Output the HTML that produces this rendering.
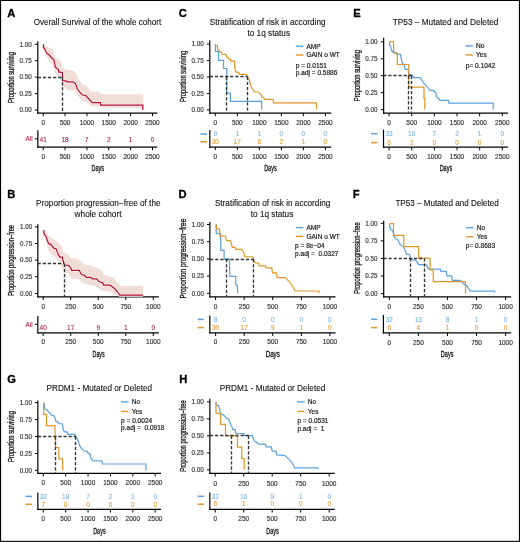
<!DOCTYPE html>
<html><head><meta charset="utf-8"><style>
html,body{margin:0;padding:0;background:#fff;}
svg{display:block;will-change:transform;}
text{font-family:"Liberation Sans",sans-serif;}
</style></head><body>
<svg width="520" height="542" viewBox="0 0 520 542">
<rect x="0" y="0" width="520" height="542" fill="#fff"/>
<text x="7.15" y="17.0" font-size="11.2" font-weight="bold" fill="#000" stroke="#000" stroke-width="0.3">A</text>
<text x="33.70" y="25.41" font-size="8.25" fill="#111" stroke="#111" stroke-width="0.1" font-weight="normal" textLength="127.50" lengthAdjust="spacingAndGlyphs">Overall Survival of the whole cohort</text>
<path d="M43.5,44.0L44.6,44.4L46.5,46.2L49.2,47.7L53.1,50.0L54.2,53.1L54.6,57.7L57.7,58.8L60.4,60.8L61.5,63.1L62.3,67.7L64.6,69.2L73.8,70.4L76.2,73.8L78.1,78.9L80.4,81.8L82.7,84.7L86.2,85.8L88.5,88.1L90.2,91.0L100.0,92.3L100.8,94.2L143.2,94.2L143.2,108.0L100.8,108.0L100.0,106.4L90.5,106.2L89.1,104.3L87.9,102.5L84.5,102.0L81.6,100.2L78.7,96.8L77.0,93.3L74.7,90.4L67.2,89.8L66.0,89.3L63.1,85.4L62.3,82.0L60.0,79.0L57.7,76.2L56.2,73.8L54.6,72.3L53.8,66.9L51.5,63.8L49.2,60.8L47.7,58.5L45.4,55.4L44.6,50.8L43.5,47.3Z" fill="#EFDDD6" stroke="none"/>
<line x1="37.80" y1="41.20" x2="37.80" y2="113.65" stroke="#000" stroke-width="1.2"/>
<line x1="37.20" y1="113.05" x2="157.30" y2="113.05" stroke="#000" stroke-width="1.2"/>
<line x1="34.90" y1="44.30" x2="37.80" y2="44.30" stroke="#000" stroke-width="1.0"/>
<text x="31.80" y="46.56" font-size="6.3" text-anchor="end" fill="#333333" stroke="#333333" stroke-width="0.15" font-weight="normal" >1.00</text>
<line x1="34.90" y1="60.72" x2="37.80" y2="60.72" stroke="#000" stroke-width="1.0"/>
<text x="31.80" y="62.98" font-size="6.3" text-anchor="end" fill="#333333" stroke="#333333" stroke-width="0.15" font-weight="normal" >0.75</text>
<line x1="34.90" y1="77.15" x2="37.80" y2="77.15" stroke="#000" stroke-width="1.0"/>
<text x="31.80" y="79.41" font-size="6.3" text-anchor="end" fill="#333333" stroke="#333333" stroke-width="0.15" font-weight="normal" >0.50</text>
<line x1="34.90" y1="93.58" x2="37.80" y2="93.58" stroke="#000" stroke-width="1.0"/>
<text x="31.80" y="95.83" font-size="6.3" text-anchor="end" fill="#333333" stroke="#333333" stroke-width="0.15" font-weight="normal" >0.25</text>
<line x1="34.90" y1="110.00" x2="37.80" y2="110.00" stroke="#000" stroke-width="1.0"/>
<text x="31.80" y="112.26" font-size="6.3" text-anchor="end" fill="#333333" stroke="#333333" stroke-width="0.15" font-weight="normal" >0.00</text>
<line x1="43.20" y1="113.05" x2="43.20" y2="116.15" stroke="#000" stroke-width="1.0"/>
<text transform="translate(43.20,124.56) scale(1.03,1)" font-size="6.3" text-anchor="middle" fill="#333333" stroke="#333333" stroke-width="0.15" font-weight="normal" >0</text>
<line x1="65.06" y1="113.05" x2="65.06" y2="116.15" stroke="#000" stroke-width="1.0"/>
<text transform="translate(65.06,124.56) scale(1.03,1)" font-size="6.3" text-anchor="middle" fill="#333333" stroke="#333333" stroke-width="0.15" font-weight="normal" >500</text>
<line x1="86.92" y1="113.05" x2="86.92" y2="116.15" stroke="#000" stroke-width="1.0"/>
<text transform="translate(86.92,124.56) scale(1.03,1)" font-size="6.3" text-anchor="middle" fill="#333333" stroke="#333333" stroke-width="0.15" font-weight="normal" >1000</text>
<line x1="108.78" y1="113.05" x2="108.78" y2="116.15" stroke="#000" stroke-width="1.0"/>
<text transform="translate(108.78,124.56) scale(1.03,1)" font-size="6.3" text-anchor="middle" fill="#333333" stroke="#333333" stroke-width="0.15" font-weight="normal" >1500</text>
<line x1="130.64" y1="113.05" x2="130.64" y2="116.15" stroke="#000" stroke-width="1.0"/>
<text transform="translate(130.64,124.56) scale(1.03,1)" font-size="6.3" text-anchor="middle" fill="#333333" stroke="#333333" stroke-width="0.15" font-weight="normal" >2000</text>
<line x1="152.50" y1="113.05" x2="152.50" y2="116.15" stroke="#000" stroke-width="1.0"/>
<text transform="translate(152.50,124.56) scale(1.03,1)" font-size="6.3" text-anchor="middle" fill="#333333" stroke="#333333" stroke-width="0.15" font-weight="normal" >2500</text>
<g transform="translate(13.90,77.50) rotate(-90)"><text x="0" y="0" font-size="8.6" text-anchor="middle" fill="#111" stroke="#111" stroke-width="0.3" textLength="51.00" lengthAdjust="spacingAndGlyphs">Proportion surviving</text></g>
<path d="M43.5,44.2L43.5,47.3L44.6,48.5L45.4,50.8L47.3,53.8L48.8,54.6L51.5,57.7L53.8,59.6L54.6,63.1L55.4,67.3L57.3,68.8L58.5,69.6L58.8,71.9L61.2,72.3L62.4,72.3L62.5,80.5L63.8,80.9L66.0,80.9L67.2,81.8L72.9,81.8L74.7,82.9L76.4,85.8L77.5,89.3L79.8,92.2L82.2,95.0L85.6,95.3L86.8,96.8L89.1,99.1L91.4,101.7L92.5,102.6L100.4,102.6L100.8,105.2L142.8,105.2L142.8,109.8" fill="none" stroke="#F7F0E8" stroke-width="2.9" stroke-linejoin="miter"/>
<path d="M43.5,44.2L43.5,47.3L44.6,48.5L45.4,50.8L47.3,53.8L48.8,54.6L51.5,57.7L53.8,59.6L54.6,63.1L55.4,67.3L57.3,68.8L58.5,69.6L58.8,71.9L61.2,72.3L62.4,72.3L62.5,80.5L63.8,80.9L66.0,80.9L67.2,81.8L72.9,81.8L74.7,82.9L76.4,85.8L77.5,89.3L79.8,92.2L82.2,95.0L85.6,95.3L86.8,96.8L89.1,99.1L91.4,101.7L92.5,102.6L100.4,102.6L100.8,105.2L142.8,105.2L142.8,109.8" fill="none" stroke="#B50C36" stroke-width="1.22" stroke-linejoin="miter"/>
<line x1="37.80" y1="77.50" x2="62.50" y2="77.50" stroke="#333" stroke-width="1.35" stroke-dasharray="3.2,1.9"/>
<line x1="62.50" y1="77.10" x2="62.50" y2="112.80" stroke="#333" stroke-width="1.35" stroke-dasharray="3.2,1.9"/>
<line x1="37.85" y1="130.20" x2="37.85" y2="147.65" stroke="#000" stroke-width="1.2"/>
<line x1="37.25" y1="147.05" x2="157.30" y2="147.05" stroke="#000" stroke-width="1.2"/>
<line x1="43.20" y1="147.05" x2="43.20" y2="150.15" stroke="#000" stroke-width="1.0"/>
<text transform="translate(43.20,158.56) scale(1.03,1)" font-size="6.3" text-anchor="middle" fill="#333333" stroke="#333333" stroke-width="0.15" font-weight="normal" >0</text>
<line x1="65.06" y1="147.05" x2="65.06" y2="150.15" stroke="#000" stroke-width="1.0"/>
<text transform="translate(65.06,158.56) scale(1.03,1)" font-size="6.3" text-anchor="middle" fill="#333333" stroke="#333333" stroke-width="0.15" font-weight="normal" >500</text>
<line x1="86.92" y1="147.05" x2="86.92" y2="150.15" stroke="#000" stroke-width="1.0"/>
<text transform="translate(86.92,158.56) scale(1.03,1)" font-size="6.3" text-anchor="middle" fill="#333333" stroke="#333333" stroke-width="0.15" font-weight="normal" >1000</text>
<line x1="108.78" y1="147.05" x2="108.78" y2="150.15" stroke="#000" stroke-width="1.0"/>
<text transform="translate(108.78,158.56) scale(1.03,1)" font-size="6.3" text-anchor="middle" fill="#333333" stroke="#333333" stroke-width="0.15" font-weight="normal" >1500</text>
<line x1="130.64" y1="147.05" x2="130.64" y2="150.15" stroke="#000" stroke-width="1.0"/>
<text transform="translate(130.64,158.56) scale(1.03,1)" font-size="6.3" text-anchor="middle" fill="#333333" stroke="#333333" stroke-width="0.15" font-weight="normal" >2000</text>
<line x1="152.50" y1="147.05" x2="152.50" y2="150.15" stroke="#000" stroke-width="1.0"/>
<text transform="translate(152.50,158.56) scale(1.03,1)" font-size="6.3" text-anchor="middle" fill="#333333" stroke="#333333" stroke-width="0.15" font-weight="normal" >2500</text>
<line x1="34.95" y1="138.90" x2="37.85" y2="138.90" stroke="#000" stroke-width="1.0"/>
<text x="32.55" y="141.16" font-size="6.3" text-anchor="end" fill="#B50C36" stroke="#B50C36" stroke-width="0.05" font-weight="normal" >All</text>
<text x="43.20" y="141.93" font-size="6.5" text-anchor="middle" fill="#B50C36" stroke="#B50C36" stroke-width="0.05" font-weight="normal" >41</text>
<text x="65.06" y="141.93" font-size="6.5" text-anchor="middle" fill="#B50C36" stroke="#B50C36" stroke-width="0.05" font-weight="normal" >18</text>
<text x="86.92" y="141.93" font-size="6.5" text-anchor="middle" fill="#B50C36" stroke="#B50C36" stroke-width="0.05" font-weight="normal" >7</text>
<text x="108.78" y="141.93" font-size="6.5" text-anchor="middle" fill="#B50C36" stroke="#B50C36" stroke-width="0.05" font-weight="normal" >2</text>
<text x="130.64" y="141.93" font-size="6.5" text-anchor="middle" fill="#B50C36" stroke="#B50C36" stroke-width="0.05" font-weight="normal" >1</text>
<text x="152.50" y="141.93" font-size="6.5" text-anchor="middle" fill="#B50C36" stroke="#B50C36" stroke-width="0.05" font-weight="normal" >0</text>
<text x="91.50" y="171.39" font-size="9.3" fill="#111" stroke="#111" stroke-width="0.3" textLength="12.40" lengthAdjust="spacingAndGlyphs">Days</text>
<text x="7.25" y="197.8" font-size="11.2" font-weight="bold" fill="#000" stroke="#000" stroke-width="0.3">B</text>
<text x="36.10" y="206.41" font-size="8.25" fill="#111" stroke="#111" stroke-width="0.1" font-weight="normal" textLength="124.40" lengthAdjust="spacingAndGlyphs">Proportion progression−free of the</text>
<text x="74.60" y="217.01" font-size="8.25" fill="#111" stroke="#111" stroke-width="0.1" font-weight="normal" textLength="46.90" lengthAdjust="spacingAndGlyphs">whole cohort</text>
<path d="M43.7,229.5L45.4,230.5L47.7,235.8L51.5,237.4L55.4,240.5L59.2,244.3L62.3,246.6L63.1,252.0L66.9,253.5L70.8,258.1L78.5,258.5L82.3,263.8L90.8,265.4L95.0,267.0L102.5,270.8L103.8,274.5L113.8,278.3L120.0,285.8L143.1,285.8L143.1,295.5L116.3,295.5L111.3,292.0L102.5,290.8L95.0,285.8L90.8,285.4L85.4,283.8L81.5,282.3L79.2,279.2L71.5,278.5L69.2,274.6L64.6,272.3L60.0,263.8L58.5,261.2L55.4,257.4L52.3,255.1L49.2,251.2L47.7,247.4L44.6,239.7L43.7,233.5Z" fill="#EFDDD6" stroke="none"/>
<line x1="37.85" y1="224.30" x2="37.85" y2="297.50" stroke="#000" stroke-width="1.2"/>
<line x1="37.25" y1="296.90" x2="158.80" y2="296.90" stroke="#000" stroke-width="1.2"/>
<line x1="34.95" y1="226.90" x2="37.85" y2="226.90" stroke="#000" stroke-width="1.0"/>
<text x="32.20" y="229.16" font-size="6.3" text-anchor="end" fill="#333333" stroke="#333333" stroke-width="0.15" font-weight="normal" >1.00</text>
<line x1="34.95" y1="243.53" x2="37.85" y2="243.53" stroke="#000" stroke-width="1.0"/>
<text x="32.20" y="245.78" font-size="6.3" text-anchor="end" fill="#333333" stroke="#333333" stroke-width="0.15" font-weight="normal" >0.75</text>
<line x1="34.95" y1="260.15" x2="37.85" y2="260.15" stroke="#000" stroke-width="1.0"/>
<text x="32.20" y="262.41" font-size="6.3" text-anchor="end" fill="#333333" stroke="#333333" stroke-width="0.15" font-weight="normal" >0.50</text>
<line x1="34.95" y1="276.77" x2="37.85" y2="276.77" stroke="#000" stroke-width="1.0"/>
<text x="32.20" y="279.03" font-size="6.3" text-anchor="end" fill="#333333" stroke="#333333" stroke-width="0.15" font-weight="normal" >0.25</text>
<line x1="34.95" y1="293.40" x2="37.85" y2="293.40" stroke="#000" stroke-width="1.0"/>
<text x="32.20" y="295.66" font-size="6.3" text-anchor="end" fill="#333333" stroke="#333333" stroke-width="0.15" font-weight="normal" >0.00</text>
<line x1="43.20" y1="296.90" x2="43.20" y2="300.00" stroke="#000" stroke-width="1.0"/>
<text transform="translate(43.20,308.76) scale(1.03,1)" font-size="6.3" text-anchor="middle" fill="#333333" stroke="#333333" stroke-width="0.15" font-weight="normal" >0</text>
<line x1="70.73" y1="296.90" x2="70.73" y2="300.00" stroke="#000" stroke-width="1.0"/>
<text transform="translate(70.73,308.76) scale(1.03,1)" font-size="6.3" text-anchor="middle" fill="#333333" stroke="#333333" stroke-width="0.15" font-weight="normal" >250</text>
<line x1="98.25" y1="296.90" x2="98.25" y2="300.00" stroke="#000" stroke-width="1.0"/>
<text transform="translate(98.25,308.76) scale(1.03,1)" font-size="6.3" text-anchor="middle" fill="#333333" stroke="#333333" stroke-width="0.15" font-weight="normal" >500</text>
<line x1="125.78" y1="296.90" x2="125.78" y2="300.00" stroke="#000" stroke-width="1.0"/>
<text transform="translate(125.78,308.76) scale(1.03,1)" font-size="6.3" text-anchor="middle" fill="#333333" stroke="#333333" stroke-width="0.15" font-weight="normal" >750</text>
<line x1="153.30" y1="296.90" x2="153.30" y2="300.00" stroke="#000" stroke-width="1.0"/>
<text transform="translate(153.30,308.76) scale(1.03,1)" font-size="6.3" text-anchor="middle" fill="#333333" stroke="#333333" stroke-width="0.15" font-weight="normal" >1000</text>
<g transform="translate(13.90,260.40) rotate(-90)"><text x="0" y="0" font-size="8.6" text-anchor="middle" fill="#111" stroke="#111" stroke-width="0.3" textLength="70.80" lengthAdjust="spacingAndGlyphs">Proportion progression−free</text></g>
<path d="M43.7,230.1L44.2,234.3L45.8,235.8L46.9,238.9L48.5,243.5L50.8,244.3L53.8,248.2L56.2,248.9L58.5,255.1L60.0,257.1L62.3,257.1L63.1,260.8L64.6,265.0L68.5,265.4L70.8,267.7L71.5,270.4L79.2,270.4L81.5,274.6L84.6,275.4L86.2,277.3L90.8,277.3L92.3,278.8L96.9,278.8L98.1,280.8L100.0,282.0L102.5,282.6L103.8,285.1L110.0,285.1L112.5,287.0L115.0,288.9L117.5,292.0L119.8,295.2L143.1,295.2" fill="none" stroke="#F7F0E8" stroke-width="2.9" stroke-linejoin="miter"/>
<path d="M43.7,230.1L44.2,234.3L45.8,235.8L46.9,238.9L48.5,243.5L50.8,244.3L53.8,248.2L56.2,248.9L58.5,255.1L60.0,257.1L62.3,257.1L63.1,260.8L64.6,265.0L68.5,265.4L70.8,267.7L71.5,270.4L79.2,270.4L81.5,274.6L84.6,275.4L86.2,277.3L90.8,277.3L92.3,278.8L96.9,278.8L98.1,280.8L100.0,282.0L102.5,282.6L103.8,285.1L110.0,285.1L112.5,287.0L115.0,288.9L117.5,292.0L119.8,295.2L143.1,295.2" fill="none" stroke="#B50C36" stroke-width="1.22" stroke-linejoin="miter"/>
<line x1="37.60" y1="263.50" x2="64.30" y2="263.50" stroke="#333" stroke-width="1.35" stroke-dasharray="3.2,1.9"/>
<line x1="64.50" y1="263.90" x2="64.50" y2="296.80" stroke="#333" stroke-width="1.35" stroke-dasharray="3.2,1.9"/>
<line x1="37.85" y1="316.00" x2="37.85" y2="333.50" stroke="#000" stroke-width="1.2"/>
<line x1="37.25" y1="332.90" x2="158.80" y2="332.90" stroke="#000" stroke-width="1.2"/>
<line x1="43.20" y1="332.90" x2="43.20" y2="336.00" stroke="#000" stroke-width="1.0"/>
<text transform="translate(43.20,344.36) scale(1.03,1)" font-size="6.3" text-anchor="middle" fill="#333333" stroke="#333333" stroke-width="0.15" font-weight="normal" >0</text>
<line x1="70.73" y1="332.90" x2="70.73" y2="336.00" stroke="#000" stroke-width="1.0"/>
<text transform="translate(70.73,344.36) scale(1.03,1)" font-size="6.3" text-anchor="middle" fill="#333333" stroke="#333333" stroke-width="0.15" font-weight="normal" >250</text>
<line x1="98.25" y1="332.90" x2="98.25" y2="336.00" stroke="#000" stroke-width="1.0"/>
<text transform="translate(98.25,344.36) scale(1.03,1)" font-size="6.3" text-anchor="middle" fill="#333333" stroke="#333333" stroke-width="0.15" font-weight="normal" >500</text>
<line x1="125.78" y1="332.90" x2="125.78" y2="336.00" stroke="#000" stroke-width="1.0"/>
<text transform="translate(125.78,344.36) scale(1.03,1)" font-size="6.3" text-anchor="middle" fill="#333333" stroke="#333333" stroke-width="0.15" font-weight="normal" >750</text>
<line x1="153.30" y1="332.90" x2="153.30" y2="336.00" stroke="#000" stroke-width="1.0"/>
<text transform="translate(153.30,344.36) scale(1.03,1)" font-size="6.3" text-anchor="middle" fill="#333333" stroke="#333333" stroke-width="0.15" font-weight="normal" >1000</text>
<line x1="34.95" y1="324.30" x2="37.85" y2="324.30" stroke="#000" stroke-width="1.0"/>
<text x="32.55" y="326.56" font-size="6.3" text-anchor="end" fill="#B50C36" stroke="#B50C36" stroke-width="0.05" font-weight="normal" >All</text>
<text x="43.20" y="329.93" font-size="6.5" text-anchor="middle" fill="#B50C36" stroke="#B50C36" stroke-width="0.05" font-weight="normal" >40</text>
<text x="70.73" y="329.93" font-size="6.5" text-anchor="middle" fill="#B50C36" stroke="#B50C36" stroke-width="0.05" font-weight="normal" >17</text>
<text x="98.25" y="329.93" font-size="6.5" text-anchor="middle" fill="#B50C36" stroke="#B50C36" stroke-width="0.05" font-weight="normal" >9</text>
<text x="125.78" y="329.93" font-size="6.5" text-anchor="middle" fill="#B50C36" stroke="#B50C36" stroke-width="0.05" font-weight="normal" >1</text>
<text x="153.30" y="329.93" font-size="6.5" text-anchor="middle" fill="#B50C36" stroke="#B50C36" stroke-width="0.05" font-weight="normal" >0</text>
<text x="92.55" y="357.19" font-size="9.3" fill="#111" stroke="#111" stroke-width="0.3" textLength="12.10" lengthAdjust="spacingAndGlyphs">Days</text>
<text x="178.85" y="16.8" font-size="11.2" font-weight="bold" fill="#000" stroke="#000" stroke-width="0.3">C</text>
<text x="209.80" y="24.66" font-size="8.25" fill="#111" stroke="#111" stroke-width="0.1" font-weight="normal" textLength="115.70" lengthAdjust="spacingAndGlyphs">Stratification of risk in according</text>
<text x="247.40" y="36.01" font-size="8.25" fill="#111" stroke="#111" stroke-width="0.1" font-weight="normal" textLength="42.70" lengthAdjust="spacingAndGlyphs">to 1q status</text>
<line x1="209.80" y1="40.30" x2="209.80" y2="113.65" stroke="#000" stroke-width="1.2"/>
<line x1="209.20" y1="113.05" x2="331.20" y2="113.05" stroke="#000" stroke-width="1.2"/>
<line x1="206.90" y1="44.10" x2="209.80" y2="44.10" stroke="#000" stroke-width="1.0"/>
<text x="203.80" y="46.36" font-size="6.3" text-anchor="end" fill="#333333" stroke="#333333" stroke-width="0.15" font-weight="normal" >1.00</text>
<line x1="206.90" y1="60.55" x2="209.80" y2="60.55" stroke="#000" stroke-width="1.0"/>
<text x="203.80" y="62.81" font-size="6.3" text-anchor="end" fill="#333333" stroke="#333333" stroke-width="0.15" font-weight="normal" >0.75</text>
<line x1="206.90" y1="77.00" x2="209.80" y2="77.00" stroke="#000" stroke-width="1.0"/>
<text x="203.80" y="79.26" font-size="6.3" text-anchor="end" fill="#333333" stroke="#333333" stroke-width="0.15" font-weight="normal" >0.50</text>
<line x1="206.90" y1="93.45" x2="209.80" y2="93.45" stroke="#000" stroke-width="1.0"/>
<text x="203.80" y="95.71" font-size="6.3" text-anchor="end" fill="#333333" stroke="#333333" stroke-width="0.15" font-weight="normal" >0.25</text>
<line x1="206.90" y1="109.90" x2="209.80" y2="109.90" stroke="#000" stroke-width="1.0"/>
<text x="203.80" y="112.16" font-size="6.3" text-anchor="end" fill="#333333" stroke="#333333" stroke-width="0.15" font-weight="normal" >0.00</text>
<line x1="215.30" y1="113.05" x2="215.30" y2="116.15" stroke="#000" stroke-width="1.0"/>
<text transform="translate(215.30,124.76) scale(1.03,1)" font-size="6.3" text-anchor="middle" fill="#333333" stroke="#333333" stroke-width="0.15" font-weight="normal" >0</text>
<line x1="237.32" y1="113.05" x2="237.32" y2="116.15" stroke="#000" stroke-width="1.0"/>
<text transform="translate(237.32,124.76) scale(1.03,1)" font-size="6.3" text-anchor="middle" fill="#333333" stroke="#333333" stroke-width="0.15" font-weight="normal" >500</text>
<line x1="259.34" y1="113.05" x2="259.34" y2="116.15" stroke="#000" stroke-width="1.0"/>
<text transform="translate(259.34,124.76) scale(1.03,1)" font-size="6.3" text-anchor="middle" fill="#333333" stroke="#333333" stroke-width="0.15" font-weight="normal" >1000</text>
<line x1="281.36" y1="113.05" x2="281.36" y2="116.15" stroke="#000" stroke-width="1.0"/>
<text transform="translate(281.36,124.76) scale(1.03,1)" font-size="6.3" text-anchor="middle" fill="#333333" stroke="#333333" stroke-width="0.15" font-weight="normal" >1500</text>
<line x1="303.38" y1="113.05" x2="303.38" y2="116.15" stroke="#000" stroke-width="1.0"/>
<text transform="translate(303.38,124.76) scale(1.03,1)" font-size="6.3" text-anchor="middle" fill="#333333" stroke="#333333" stroke-width="0.15" font-weight="normal" >2000</text>
<line x1="325.40" y1="113.05" x2="325.40" y2="116.15" stroke="#000" stroke-width="1.0"/>
<text transform="translate(325.40,124.76) scale(1.03,1)" font-size="6.3" text-anchor="middle" fill="#333333" stroke="#333333" stroke-width="0.15" font-weight="normal" >2500</text>
<g transform="translate(185.90,76.50) rotate(-90)"><text x="0" y="0" font-size="8.6" text-anchor="middle" fill="#111" stroke="#111" stroke-width="0.3" textLength="51.20" lengthAdjust="spacingAndGlyphs">Proportion surviving</text></g>
<path d="M215.4,44.0L215.4,51.5L218.5,51.5L218.5,60.4L223.5,60.4L223.5,68.5L226.8,68.5L226.8,93.1L230.4,93.1L230.4,101.3L261.7,101.3L261.7,109.8" fill="none" stroke="#5AA1DE" stroke-width="1.22" stroke-linejoin="miter"/>
<path d="M215.4,44.0L215.4,45.0L217.3,45.4L217.7,50.0L219.2,50.0L219.6,51.9L221.5,52.3L221.9,54.2L226.2,54.5L226.5,56.5L228.1,57.3L228.5,58.8L230.4,59.1L230.8,61.2L234.6,61.2L235.0,70.0L235.7,71.9L238.6,72.4L239.5,74.3L246.3,74.3L247.7,76.7L249.1,79.6L250.1,83.5L251.5,87.3L254.4,92.0L258.8,92.0L260.0,93.8L261.3,95.0L261.9,96.9L263.8,97.5L264.4,99.4L273.1,99.4L273.5,102.9L316.4,102.9L316.4,109.6" fill="none" stroke="#E0962A" stroke-width="1.22" stroke-linejoin="miter"/>
<line x1="209.80" y1="76.50" x2="247.40" y2="76.50" stroke="#333" stroke-width="1.35" stroke-dasharray="3.2,1.9"/>
<line x1="226.50" y1="76.80" x2="226.50" y2="112.60" stroke="#333" stroke-width="1.35" stroke-dasharray="3.2,1.9"/>
<line x1="247.50" y1="76.80" x2="247.50" y2="112.60" stroke="#333" stroke-width="1.35" stroke-dasharray="3.2,1.9"/>
<line x1="295.80" y1="46.30" x2="303.20" y2="46.30" stroke="#5AA1DE" stroke-width="1.4"/>
<text transform="translate(306.40,48.56) scale(1.04,1)" font-size="6.3" text-anchor="start" fill="#222" stroke="#222" stroke-width="0.2" font-weight="normal" >AMP</text>
<line x1="295.80" y1="55.00" x2="303.20" y2="55.00" stroke="#E0962A" stroke-width="1.4"/>
<text transform="translate(306.40,57.26) scale(1.04,1)" font-size="6.3" text-anchor="start" fill="#222" stroke="#222" stroke-width="0.2" font-weight="normal" >GAIN o WT</text>
<text transform="translate(295.80,67.66) scale(1.04,1)" font-size="6.3" text-anchor="start" fill="#222" stroke="#222" stroke-width="0.2" font-weight="normal" >p = 0.0151</text>
<text transform="translate(295.80,75.06) scale(1.04,1)" font-size="6.3" text-anchor="start" fill="#222" stroke="#222" stroke-width="0.2" font-weight="normal" >p.adj = 0.5886</text>
<line x1="209.85" y1="130.00" x2="209.85" y2="147.65" stroke="#000" stroke-width="1.2"/>
<line x1="209.25" y1="147.05" x2="331.20" y2="147.05" stroke="#000" stroke-width="1.2"/>
<line x1="215.30" y1="147.05" x2="215.30" y2="150.15" stroke="#000" stroke-width="1.0"/>
<text transform="translate(215.30,158.86) scale(1.03,1)" font-size="6.3" text-anchor="middle" fill="#333333" stroke="#333333" stroke-width="0.15" font-weight="normal" >0</text>
<line x1="237.32" y1="147.05" x2="237.32" y2="150.15" stroke="#000" stroke-width="1.0"/>
<text transform="translate(237.32,158.86) scale(1.03,1)" font-size="6.3" text-anchor="middle" fill="#333333" stroke="#333333" stroke-width="0.15" font-weight="normal" >500</text>
<line x1="259.34" y1="147.05" x2="259.34" y2="150.15" stroke="#000" stroke-width="1.0"/>
<text transform="translate(259.34,158.86) scale(1.03,1)" font-size="6.3" text-anchor="middle" fill="#333333" stroke="#333333" stroke-width="0.15" font-weight="normal" >1000</text>
<line x1="281.36" y1="147.05" x2="281.36" y2="150.15" stroke="#000" stroke-width="1.0"/>
<text transform="translate(281.36,158.86) scale(1.03,1)" font-size="6.3" text-anchor="middle" fill="#333333" stroke="#333333" stroke-width="0.15" font-weight="normal" >1500</text>
<line x1="303.38" y1="147.05" x2="303.38" y2="150.15" stroke="#000" stroke-width="1.0"/>
<text transform="translate(303.38,158.86) scale(1.03,1)" font-size="6.3" text-anchor="middle" fill="#333333" stroke="#333333" stroke-width="0.15" font-weight="normal" >2000</text>
<line x1="325.40" y1="147.05" x2="325.40" y2="150.15" stroke="#000" stroke-width="1.0"/>
<text transform="translate(325.40,158.86) scale(1.03,1)" font-size="6.3" text-anchor="middle" fill="#333333" stroke="#333333" stroke-width="0.15" font-weight="normal" >2500</text>
<line x1="200.40" y1="134.00" x2="207.00" y2="134.00" stroke="#5AA1DE" stroke-width="1.5"/>
<text x="215.30" y="136.13" font-size="6.5" text-anchor="middle" fill="#5AA1DE" stroke="#5AA1DE" stroke-width="0.05" font-weight="normal" fill-opacity="0.85" stroke-opacity="0.85">9</text>
<text x="237.32" y="136.13" font-size="6.5" text-anchor="middle" fill="#5AA1DE" stroke="#5AA1DE" stroke-width="0.05" font-weight="normal" fill-opacity="0.85" stroke-opacity="0.85">1</text>
<text x="259.34" y="136.13" font-size="6.5" text-anchor="middle" fill="#5AA1DE" stroke="#5AA1DE" stroke-width="0.05" font-weight="normal" fill-opacity="0.85" stroke-opacity="0.85">1</text>
<text x="281.36" y="136.13" font-size="6.5" text-anchor="middle" fill="#5AA1DE" stroke="#5AA1DE" stroke-width="0.05" font-weight="normal" fill-opacity="0.85" stroke-opacity="0.85">0</text>
<text x="303.38" y="136.13" font-size="6.5" text-anchor="middle" fill="#5AA1DE" stroke="#5AA1DE" stroke-width="0.05" font-weight="normal" fill-opacity="0.85" stroke-opacity="0.85">0</text>
<text x="325.40" y="136.13" font-size="6.5" text-anchor="middle" fill="#5AA1DE" stroke="#5AA1DE" stroke-width="0.05" font-weight="normal" fill-opacity="0.85" stroke-opacity="0.85">0</text>
<line x1="200.40" y1="141.80" x2="207.00" y2="141.80" stroke="#E0962A" stroke-width="1.5"/>
<text x="215.30" y="143.83" font-size="6.5" text-anchor="middle" fill="#E0962A" stroke="#E0962A" stroke-width="0.05" font-weight="normal" >30</text>
<text x="237.32" y="143.83" font-size="6.5" text-anchor="middle" fill="#E0962A" stroke="#E0962A" stroke-width="0.05" font-weight="normal" >17</text>
<text x="259.34" y="143.83" font-size="6.5" text-anchor="middle" fill="#E0962A" stroke="#E0962A" stroke-width="0.05" font-weight="normal" >6</text>
<text x="281.36" y="143.83" font-size="6.5" text-anchor="middle" fill="#E0962A" stroke="#E0962A" stroke-width="0.05" font-weight="normal" >2</text>
<text x="303.38" y="143.83" font-size="6.5" text-anchor="middle" fill="#E0962A" stroke="#E0962A" stroke-width="0.05" font-weight="normal" >1</text>
<text x="325.40" y="143.83" font-size="6.5" text-anchor="middle" fill="#E0962A" stroke="#E0962A" stroke-width="0.05" font-weight="normal" >0</text>
<text x="264.15" y="171.39" font-size="9.3" fill="#111" stroke="#111" stroke-width="0.3" textLength="12.50" lengthAdjust="spacingAndGlyphs">Days</text>
<text x="178.45" y="198.0" font-size="11.2" font-weight="bold" fill="#000" stroke="#000" stroke-width="0.3">D</text>
<text x="214.90" y="206.31" font-size="8.25" fill="#111" stroke="#111" stroke-width="0.1" font-weight="normal" textLength="115.40" lengthAdjust="spacingAndGlyphs">Stratification of risk in according</text>
<text x="250.80" y="217.11" font-size="8.25" fill="#111" stroke="#111" stroke-width="0.1" font-weight="normal" textLength="42.50" lengthAdjust="spacingAndGlyphs">to 1q status</text>
<line x1="209.85" y1="221.90" x2="209.85" y2="297.50" stroke="#000" stroke-width="1.2"/>
<line x1="209.25" y1="296.90" x2="335.50" y2="296.90" stroke="#000" stroke-width="1.2"/>
<line x1="206.95" y1="224.50" x2="209.85" y2="224.50" stroke="#000" stroke-width="1.0"/>
<text x="204.00" y="226.76" font-size="6.3" text-anchor="end" fill="#333333" stroke="#333333" stroke-width="0.15" font-weight="normal" >1.00</text>
<line x1="206.95" y1="241.70" x2="209.85" y2="241.70" stroke="#000" stroke-width="1.0"/>
<text x="204.00" y="243.96" font-size="6.3" text-anchor="end" fill="#333333" stroke="#333333" stroke-width="0.15" font-weight="normal" >0.75</text>
<line x1="206.95" y1="258.90" x2="209.85" y2="258.90" stroke="#000" stroke-width="1.0"/>
<text x="204.00" y="261.16" font-size="6.3" text-anchor="end" fill="#333333" stroke="#333333" stroke-width="0.15" font-weight="normal" >0.50</text>
<line x1="206.95" y1="276.10" x2="209.85" y2="276.10" stroke="#000" stroke-width="1.0"/>
<text x="204.00" y="278.36" font-size="6.3" text-anchor="end" fill="#333333" stroke="#333333" stroke-width="0.15" font-weight="normal" >0.25</text>
<line x1="206.95" y1="293.30" x2="209.85" y2="293.30" stroke="#000" stroke-width="1.0"/>
<text x="204.00" y="295.56" font-size="6.3" text-anchor="end" fill="#333333" stroke="#333333" stroke-width="0.15" font-weight="normal" >0.00</text>
<line x1="215.60" y1="296.90" x2="215.60" y2="300.00" stroke="#000" stroke-width="1.0"/>
<text transform="translate(215.60,308.76) scale(1.03,1)" font-size="6.3" text-anchor="middle" fill="#333333" stroke="#333333" stroke-width="0.15" font-weight="normal" >0</text>
<line x1="244.17" y1="296.90" x2="244.17" y2="300.00" stroke="#000" stroke-width="1.0"/>
<text transform="translate(244.17,308.76) scale(1.03,1)" font-size="6.3" text-anchor="middle" fill="#333333" stroke="#333333" stroke-width="0.15" font-weight="normal" >250</text>
<line x1="272.75" y1="296.90" x2="272.75" y2="300.00" stroke="#000" stroke-width="1.0"/>
<text transform="translate(272.75,308.76) scale(1.03,1)" font-size="6.3" text-anchor="middle" fill="#333333" stroke="#333333" stroke-width="0.15" font-weight="normal" >500</text>
<line x1="301.32" y1="296.90" x2="301.32" y2="300.00" stroke="#000" stroke-width="1.0"/>
<text transform="translate(301.32,308.76) scale(1.03,1)" font-size="6.3" text-anchor="middle" fill="#333333" stroke="#333333" stroke-width="0.15" font-weight="normal" >750</text>
<line x1="329.90" y1="296.90" x2="329.90" y2="300.00" stroke="#000" stroke-width="1.0"/>
<text transform="translate(329.90,308.76) scale(1.03,1)" font-size="6.3" text-anchor="middle" fill="#333333" stroke="#333333" stroke-width="0.15" font-weight="normal" >1000</text>
<g transform="translate(186.00,258.60) rotate(-90)"><text x="0" y="0" font-size="9.5" text-anchor="middle" fill="#111" stroke="#111" stroke-width="0.3" textLength="79.60" lengthAdjust="spacingAndGlyphs">Proportion progression−free</text></g>
<path d="M216.2,224.2L216.2,233.5L220.5,233.5L220.8,250.3L224.1,250.3L224.1,259.2L229.4,259.2L229.6,268.1L229.9,276.3L235.7,276.3L235.7,284.4L237.3,285.4L237.6,293.2" fill="none" stroke="#5AA1DE" stroke-width="1.22" stroke-linejoin="miter"/>
<path d="M216.2,224.2L216.5,229.2L219.5,229.2L220.1,236.2L225.5,236.2L226.6,240.6L230.1,240.6L231.2,243.1L232.4,247.3L235.2,247.4L235.7,249.3L241.9,249.3L243.4,251.7L244.3,254.1L244.8,256.7L253.0,257.0L253.9,260.9L255.4,262.8L258.8,263.3L259.2,265.9L265.1,265.9L266.4,267.9L271.8,267.9L272.5,272.9L276.5,272.9L277.2,277.6L285.3,277.6L287.3,279.6L289.3,281.6L291.3,284.3L293.4,287.7L295.1,291.0L318.9,291.0L318.9,292.8" fill="none" stroke="#E0962A" stroke-width="1.22" stroke-linejoin="miter"/>
<line x1="210.10" y1="259.50" x2="253.60" y2="259.50" stroke="#333" stroke-width="1.35" stroke-dasharray="3.2,1.9"/>
<line x1="226.50" y1="259.10" x2="226.50" y2="296.60" stroke="#333" stroke-width="1.35" stroke-dasharray="3.2,1.9"/>
<line x1="253.50" y1="259.10" x2="253.50" y2="296.60" stroke="#333" stroke-width="1.35" stroke-dasharray="3.2,1.9"/>
<line x1="295.80" y1="227.60" x2="303.20" y2="227.60" stroke="#5AA1DE" stroke-width="1.4"/>
<text transform="translate(306.40,229.86) scale(1.04,1)" font-size="6.3" text-anchor="start" fill="#222" stroke="#222" stroke-width="0.2" font-weight="normal" >AMP</text>
<line x1="295.80" y1="236.40" x2="303.20" y2="236.40" stroke="#E0962A" stroke-width="1.4"/>
<text transform="translate(306.40,238.66) scale(1.04,1)" font-size="6.3" text-anchor="start" fill="#222" stroke="#222" stroke-width="0.2" font-weight="normal" >GAIN o WT</text>
<text transform="translate(295.10,248.16) scale(1.04,1)" font-size="6.3" text-anchor="start" fill="#222" stroke="#222" stroke-width="0.2" font-weight="normal" >p = 8e−04</text>
<text transform="translate(295.10,255.56) scale(1.04,1)" font-size="6.3" text-anchor="start" fill="#222" stroke="#222" stroke-width="0.2" font-weight="normal" >p.adj =&#160; 0.0327</text>
<line x1="209.85" y1="315.40" x2="209.85" y2="333.50" stroke="#000" stroke-width="1.2"/>
<line x1="209.25" y1="332.90" x2="335.50" y2="332.90" stroke="#000" stroke-width="1.2"/>
<line x1="215.60" y1="332.90" x2="215.60" y2="336.00" stroke="#000" stroke-width="1.0"/>
<text transform="translate(215.60,344.26) scale(1.03,1)" font-size="6.3" text-anchor="middle" fill="#333333" stroke="#333333" stroke-width="0.15" font-weight="normal" >0</text>
<line x1="244.17" y1="332.90" x2="244.17" y2="336.00" stroke="#000" stroke-width="1.0"/>
<text transform="translate(244.17,344.26) scale(1.03,1)" font-size="6.3" text-anchor="middle" fill="#333333" stroke="#333333" stroke-width="0.15" font-weight="normal" >250</text>
<line x1="272.75" y1="332.90" x2="272.75" y2="336.00" stroke="#000" stroke-width="1.0"/>
<text transform="translate(272.75,344.26) scale(1.03,1)" font-size="6.3" text-anchor="middle" fill="#333333" stroke="#333333" stroke-width="0.15" font-weight="normal" >500</text>
<line x1="301.32" y1="332.90" x2="301.32" y2="336.00" stroke="#000" stroke-width="1.0"/>
<text transform="translate(301.32,344.26) scale(1.03,1)" font-size="6.3" text-anchor="middle" fill="#333333" stroke="#333333" stroke-width="0.15" font-weight="normal" >750</text>
<line x1="329.90" y1="332.90" x2="329.90" y2="336.00" stroke="#000" stroke-width="1.0"/>
<text transform="translate(329.90,344.26) scale(1.03,1)" font-size="6.3" text-anchor="middle" fill="#333333" stroke="#333333" stroke-width="0.15" font-weight="normal" >1000</text>
<line x1="197.70" y1="319.40" x2="203.70" y2="319.40" stroke="#5AA1DE" stroke-width="1.5"/>
<text x="215.60" y="322.03" font-size="6.5" text-anchor="middle" fill="#5AA1DE" stroke="#5AA1DE" stroke-width="0.05" font-weight="normal" fill-opacity="0.85" stroke-opacity="0.85">8</text>
<text x="244.17" y="322.03" font-size="6.5" text-anchor="middle" fill="#5AA1DE" stroke="#5AA1DE" stroke-width="0.05" font-weight="normal" fill-opacity="0.85" stroke-opacity="0.85">0</text>
<text x="272.75" y="322.03" font-size="6.5" text-anchor="middle" fill="#5AA1DE" stroke="#5AA1DE" stroke-width="0.05" font-weight="normal" fill-opacity="0.85" stroke-opacity="0.85">0</text>
<text x="301.32" y="322.03" font-size="6.5" text-anchor="middle" fill="#5AA1DE" stroke="#5AA1DE" stroke-width="0.05" font-weight="normal" fill-opacity="0.85" stroke-opacity="0.85">0</text>
<text x="329.90" y="322.03" font-size="6.5" text-anchor="middle" fill="#5AA1DE" stroke="#5AA1DE" stroke-width="0.05" font-weight="normal" fill-opacity="0.85" stroke-opacity="0.85">0</text>
<line x1="197.70" y1="327.60" x2="203.70" y2="327.60" stroke="#E0962A" stroke-width="1.5"/>
<text x="215.60" y="329.63" font-size="6.5" text-anchor="middle" fill="#E0962A" stroke="#E0962A" stroke-width="0.05" font-weight="normal" >30</text>
<text x="244.17" y="329.63" font-size="6.5" text-anchor="middle" fill="#E0962A" stroke="#E0962A" stroke-width="0.05" font-weight="normal" >17</text>
<text x="272.75" y="329.63" font-size="6.5" text-anchor="middle" fill="#E0962A" stroke="#E0962A" stroke-width="0.05" font-weight="normal" >9</text>
<text x="301.32" y="329.63" font-size="6.5" text-anchor="middle" fill="#E0962A" stroke="#E0962A" stroke-width="0.05" font-weight="normal" >1</text>
<text x="329.90" y="329.63" font-size="6.5" text-anchor="middle" fill="#E0962A" stroke="#E0962A" stroke-width="0.05" font-weight="normal" >0</text>
<text x="265.65" y="357.39" font-size="9.3" fill="#111" stroke="#111" stroke-width="0.3" textLength="14.20" lengthAdjust="spacingAndGlyphs">Days</text>
<text x="353.25" y="16.8" font-size="11.2" font-weight="bold" fill="#000" stroke="#000" stroke-width="0.3">E</text>
<text x="392.80" y="25.21" font-size="8.25" fill="#111" stroke="#111" stroke-width="0.1" font-weight="normal" textLength="105.60" lengthAdjust="spacingAndGlyphs">TP53 – Mutated and Deleted</text>
<line x1="383.65" y1="37.80" x2="383.65" y2="113.80" stroke="#000" stroke-width="1.2"/>
<line x1="383.05" y1="113.20" x2="507.90" y2="113.20" stroke="#000" stroke-width="1.2"/>
<line x1="380.75" y1="41.80" x2="383.65" y2="41.80" stroke="#000" stroke-width="1.0"/>
<text x="377.50" y="44.06" font-size="6.3" text-anchor="end" fill="#333333" stroke="#333333" stroke-width="0.15" font-weight="normal" >1.00</text>
<line x1="380.75" y1="58.75" x2="383.65" y2="58.75" stroke="#000" stroke-width="1.0"/>
<text x="377.50" y="61.01" font-size="6.3" text-anchor="end" fill="#333333" stroke="#333333" stroke-width="0.15" font-weight="normal" >0.75</text>
<line x1="380.75" y1="75.70" x2="383.65" y2="75.70" stroke="#000" stroke-width="1.0"/>
<text x="377.50" y="77.96" font-size="6.3" text-anchor="end" fill="#333333" stroke="#333333" stroke-width="0.15" font-weight="normal" >0.50</text>
<line x1="380.75" y1="92.65" x2="383.65" y2="92.65" stroke="#000" stroke-width="1.0"/>
<text x="377.50" y="94.91" font-size="6.3" text-anchor="end" fill="#333333" stroke="#333333" stroke-width="0.15" font-weight="normal" >0.25</text>
<line x1="380.75" y1="109.60" x2="383.65" y2="109.60" stroke="#000" stroke-width="1.0"/>
<text x="377.50" y="111.86" font-size="6.3" text-anchor="end" fill="#333333" stroke="#333333" stroke-width="0.15" font-weight="normal" >0.00</text>
<line x1="389.10" y1="113.20" x2="389.10" y2="116.30" stroke="#000" stroke-width="1.0"/>
<text transform="translate(389.10,124.76) scale(1.03,1)" font-size="6.3" text-anchor="middle" fill="#333333" stroke="#333333" stroke-width="0.15" font-weight="normal" >0</text>
<line x1="411.74" y1="113.20" x2="411.74" y2="116.30" stroke="#000" stroke-width="1.0"/>
<text transform="translate(411.74,124.76) scale(1.03,1)" font-size="6.3" text-anchor="middle" fill="#333333" stroke="#333333" stroke-width="0.15" font-weight="normal" >500</text>
<line x1="434.38" y1="113.20" x2="434.38" y2="116.30" stroke="#000" stroke-width="1.0"/>
<text transform="translate(434.38,124.76) scale(1.03,1)" font-size="6.3" text-anchor="middle" fill="#333333" stroke="#333333" stroke-width="0.15" font-weight="normal" >1000</text>
<line x1="457.02" y1="113.20" x2="457.02" y2="116.30" stroke="#000" stroke-width="1.0"/>
<text transform="translate(457.02,124.76) scale(1.03,1)" font-size="6.3" text-anchor="middle" fill="#333333" stroke="#333333" stroke-width="0.15" font-weight="normal" >1500</text>
<line x1="479.66" y1="113.20" x2="479.66" y2="116.30" stroke="#000" stroke-width="1.0"/>
<text transform="translate(479.66,124.76) scale(1.03,1)" font-size="6.3" text-anchor="middle" fill="#333333" stroke="#333333" stroke-width="0.15" font-weight="normal" >2000</text>
<line x1="502.30" y1="113.20" x2="502.30" y2="116.30" stroke="#000" stroke-width="1.0"/>
<text transform="translate(502.30,124.76) scale(1.03,1)" font-size="6.3" text-anchor="middle" fill="#333333" stroke="#333333" stroke-width="0.15" font-weight="normal" >2500</text>
<g transform="translate(359.90,75.60) rotate(-90)"><text x="0" y="0" font-size="8.6" text-anchor="middle" fill="#111" stroke="#111" stroke-width="0.3" textLength="51.30" lengthAdjust="spacingAndGlyphs">Proportion surviving</text></g>
<path d="M389.5,41.6L389.5,45.3L390.8,46.5L391.2,49.5L392.7,52.2L395.8,52.6L396.5,54.2L400.4,54.3L401.5,59.5L402.3,63.4L404.2,64.9L405.0,69.2L408.1,69.5L408.8,73.4L409.6,74.8L412.5,75.3L413.5,77.7L420.2,77.7L422.1,80.6L424.0,83.5L426.0,85.4L427.9,87.8L429.8,90.2L433.7,90.7L436.1,93.1L436.5,96.9L438.9,98.4L439.9,100.3L448.3,100.3L448.8,103.2L493.2,103.2L493.2,109.6" fill="none" stroke="#5AA1DE" stroke-width="1.22" stroke-linejoin="miter"/>
<path d="M389.5,41.6L393.6,41.6L393.6,53.0L397.3,53.2L397.3,64.5L408.8,64.5L408.8,87.2L424.0,87.2L424.0,98.4L424.8,98.4L424.8,109.5" fill="none" stroke="#E0962A" stroke-width="1.22" stroke-linejoin="miter"/>
<line x1="383.20" y1="75.50" x2="411.80" y2="75.50" stroke="#333" stroke-width="1.35" stroke-dasharray="3.2,1.9"/>
<line x1="408.50" y1="75.80" x2="408.50" y2="112.80" stroke="#333" stroke-width="1.35" stroke-dasharray="3.2,1.9"/>
<line x1="411.50" y1="75.80" x2="411.50" y2="112.80" stroke="#333" stroke-width="1.35" stroke-dasharray="3.2,1.9"/>
<line x1="465.50" y1="45.90" x2="472.90" y2="45.90" stroke="#5AA1DE" stroke-width="1.4"/>
<text transform="translate(476.10,48.16) scale(1.04,1)" font-size="6.3" text-anchor="start" fill="#222" stroke="#222" stroke-width="0.2" font-weight="normal" >No</text>
<line x1="465.50" y1="54.90" x2="472.90" y2="54.90" stroke="#E0962A" stroke-width="1.4"/>
<text transform="translate(476.10,57.16) scale(1.04,1)" font-size="6.3" text-anchor="start" fill="#222" stroke="#222" stroke-width="0.2" font-weight="normal" >Yes</text>
<text transform="translate(465.80,67.56) scale(1.04,1)" font-size="6.3" text-anchor="start" fill="#222" stroke="#222" stroke-width="0.2" font-weight="normal" >p= 0.1042</text>
<line x1="383.50" y1="129.70" x2="383.50" y2="147.75" stroke="#000" stroke-width="1.2"/>
<line x1="382.90" y1="147.15" x2="507.90" y2="147.15" stroke="#000" stroke-width="1.2"/>
<line x1="389.10" y1="147.15" x2="389.10" y2="150.25" stroke="#000" stroke-width="1.0"/>
<text transform="translate(389.10,158.56) scale(1.03,1)" font-size="6.3" text-anchor="middle" fill="#333333" stroke="#333333" stroke-width="0.15" font-weight="normal" >0</text>
<line x1="411.74" y1="147.15" x2="411.74" y2="150.25" stroke="#000" stroke-width="1.0"/>
<text transform="translate(411.74,158.56) scale(1.03,1)" font-size="6.3" text-anchor="middle" fill="#333333" stroke="#333333" stroke-width="0.15" font-weight="normal" >500</text>
<line x1="434.38" y1="147.15" x2="434.38" y2="150.25" stroke="#000" stroke-width="1.0"/>
<text transform="translate(434.38,158.56) scale(1.03,1)" font-size="6.3" text-anchor="middle" fill="#333333" stroke="#333333" stroke-width="0.15" font-weight="normal" >1000</text>
<line x1="457.02" y1="147.15" x2="457.02" y2="150.25" stroke="#000" stroke-width="1.0"/>
<text transform="translate(457.02,158.56) scale(1.03,1)" font-size="6.3" text-anchor="middle" fill="#333333" stroke="#333333" stroke-width="0.15" font-weight="normal" >1500</text>
<line x1="479.66" y1="147.15" x2="479.66" y2="150.25" stroke="#000" stroke-width="1.0"/>
<text transform="translate(479.66,158.56) scale(1.03,1)" font-size="6.3" text-anchor="middle" fill="#333333" stroke="#333333" stroke-width="0.15" font-weight="normal" >2000</text>
<line x1="502.30" y1="147.15" x2="502.30" y2="150.25" stroke="#000" stroke-width="1.0"/>
<text transform="translate(502.30,158.56) scale(1.03,1)" font-size="6.3" text-anchor="middle" fill="#333333" stroke="#333333" stroke-width="0.15" font-weight="normal" >2500</text>
<line x1="371.10" y1="133.70" x2="377.40" y2="133.70" stroke="#5AA1DE" stroke-width="1.5"/>
<text x="389.10" y="135.93" font-size="6.5" text-anchor="middle" fill="#5AA1DE" stroke="#5AA1DE" stroke-width="0.05" font-weight="normal" fill-opacity="0.85" stroke-opacity="0.85">33</text>
<text x="411.74" y="135.93" font-size="6.5" text-anchor="middle" fill="#5AA1DE" stroke="#5AA1DE" stroke-width="0.05" font-weight="normal" fill-opacity="0.85" stroke-opacity="0.85">16</text>
<text x="434.38" y="135.93" font-size="6.5" text-anchor="middle" fill="#5AA1DE" stroke="#5AA1DE" stroke-width="0.05" font-weight="normal" fill-opacity="0.85" stroke-opacity="0.85">7</text>
<text x="457.02" y="135.93" font-size="6.5" text-anchor="middle" fill="#5AA1DE" stroke="#5AA1DE" stroke-width="0.05" font-weight="normal" fill-opacity="0.85" stroke-opacity="0.85">2</text>
<text x="479.66" y="135.93" font-size="6.5" text-anchor="middle" fill="#5AA1DE" stroke="#5AA1DE" stroke-width="0.05" font-weight="normal" fill-opacity="0.85" stroke-opacity="0.85">1</text>
<text x="502.30" y="135.93" font-size="6.5" text-anchor="middle" fill="#5AA1DE" stroke="#5AA1DE" stroke-width="0.05" font-weight="normal" fill-opacity="0.85" stroke-opacity="0.85">0</text>
<line x1="371.10" y1="142.60" x2="377.40" y2="142.60" stroke="#E0962A" stroke-width="1.5"/>
<text x="389.10" y="144.93" font-size="6.5" text-anchor="middle" fill="#E0962A" stroke="#E0962A" stroke-width="0.05" font-weight="normal" >6</text>
<text x="411.74" y="144.93" font-size="6.5" text-anchor="middle" fill="#E0962A" stroke="#E0962A" stroke-width="0.05" font-weight="normal" >2</text>
<text x="434.38" y="144.93" font-size="6.5" text-anchor="middle" fill="#E0962A" stroke="#E0962A" stroke-width="0.05" font-weight="normal" >0</text>
<text x="457.02" y="144.93" font-size="6.5" text-anchor="middle" fill="#E0962A" stroke="#E0962A" stroke-width="0.05" font-weight="normal" >0</text>
<text x="479.66" y="144.93" font-size="6.5" text-anchor="middle" fill="#E0962A" stroke="#E0962A" stroke-width="0.05" font-weight="normal" >0</text>
<text x="502.30" y="144.93" font-size="6.5" text-anchor="middle" fill="#E0962A" stroke="#E0962A" stroke-width="0.05" font-weight="normal" >0</text>
<text x="439.65" y="171.39" font-size="9.3" fill="#111" stroke="#111" stroke-width="0.3" textLength="12.50" lengthAdjust="spacingAndGlyphs">Days</text>
<text x="352.85" y="197.8" font-size="11.2" font-weight="bold" fill="#000" stroke="#000" stroke-width="0.3">F</text>
<text x="395.40" y="206.31" font-size="8.25" fill="#111" stroke="#111" stroke-width="0.1" font-weight="normal" textLength="103.40" lengthAdjust="spacingAndGlyphs">TP53 – Mutated and Deleted</text>
<line x1="383.70" y1="220.70" x2="383.70" y2="297.50" stroke="#000" stroke-width="1.2"/>
<line x1="383.10" y1="296.90" x2="511.20" y2="296.90" stroke="#000" stroke-width="1.2"/>
<line x1="380.80" y1="223.30" x2="383.70" y2="223.30" stroke="#000" stroke-width="1.0"/>
<text x="377.50" y="225.56" font-size="6.3" text-anchor="end" fill="#333333" stroke="#333333" stroke-width="0.15" font-weight="normal" >1.00</text>
<line x1="380.80" y1="240.88" x2="383.70" y2="240.88" stroke="#000" stroke-width="1.0"/>
<text x="377.50" y="243.13" font-size="6.3" text-anchor="end" fill="#333333" stroke="#333333" stroke-width="0.15" font-weight="normal" >0.75</text>
<line x1="380.80" y1="258.45" x2="383.70" y2="258.45" stroke="#000" stroke-width="1.0"/>
<text x="377.50" y="260.71" font-size="6.3" text-anchor="end" fill="#333333" stroke="#333333" stroke-width="0.15" font-weight="normal" >0.50</text>
<line x1="380.80" y1="276.03" x2="383.70" y2="276.03" stroke="#000" stroke-width="1.0"/>
<text x="377.50" y="278.28" font-size="6.3" text-anchor="end" fill="#333333" stroke="#333333" stroke-width="0.15" font-weight="normal" >0.25</text>
<line x1="380.80" y1="293.60" x2="383.70" y2="293.60" stroke="#000" stroke-width="1.0"/>
<text x="377.50" y="295.86" font-size="6.3" text-anchor="end" fill="#333333" stroke="#333333" stroke-width="0.15" font-weight="normal" >0.00</text>
<line x1="389.30" y1="296.90" x2="389.30" y2="300.00" stroke="#000" stroke-width="1.0"/>
<text transform="translate(389.30,308.76) scale(1.03,1)" font-size="6.3" text-anchor="middle" fill="#333333" stroke="#333333" stroke-width="0.15" font-weight="normal" >0</text>
<line x1="418.38" y1="296.90" x2="418.38" y2="300.00" stroke="#000" stroke-width="1.0"/>
<text transform="translate(418.38,308.76) scale(1.03,1)" font-size="6.3" text-anchor="middle" fill="#333333" stroke="#333333" stroke-width="0.15" font-weight="normal" >250</text>
<line x1="447.45" y1="296.90" x2="447.45" y2="300.00" stroke="#000" stroke-width="1.0"/>
<text transform="translate(447.45,308.76) scale(1.03,1)" font-size="6.3" text-anchor="middle" fill="#333333" stroke="#333333" stroke-width="0.15" font-weight="normal" >500</text>
<line x1="476.53" y1="296.90" x2="476.53" y2="300.00" stroke="#000" stroke-width="1.0"/>
<text transform="translate(476.53,308.76) scale(1.03,1)" font-size="6.3" text-anchor="middle" fill="#333333" stroke="#333333" stroke-width="0.15" font-weight="normal" >750</text>
<line x1="505.60" y1="296.90" x2="505.60" y2="300.00" stroke="#000" stroke-width="1.0"/>
<text transform="translate(505.60,308.76) scale(1.03,1)" font-size="6.3" text-anchor="middle" fill="#333333" stroke="#333333" stroke-width="0.15" font-weight="normal" >1000</text>
<g transform="translate(359.90,258.00) rotate(-90)"><text x="0" y="0" font-size="8.6" text-anchor="middle" fill="#111" stroke="#111" stroke-width="0.3" textLength="71.40" lengthAdjust="spacingAndGlyphs">Proportion progression−free</text></g>
<path d="M389.6,223.6L389.8,226.7L390.8,230.0L392.2,230.0L393.7,233.4L394.6,237.2L396.1,238.7L398.0,240.1L399.4,243.5L401.8,245.9L403.8,247.3L405.2,250.7L406.6,254.1L409.5,254.5L410.5,258.4L412.9,259.8L415.8,260.3L418.7,264.7L426.1,264.7L428.7,269.1L440.2,269.1L440.9,271.4L446.2,271.4L446.9,275.9L451.6,275.9L452.3,280.3L460.4,280.3L462.4,282.6L463.7,283.9L466.4,285.3L468.5,288.4L470.5,291.1L494.6,291.1L494.8,292.6" fill="none" stroke="#5AA1DE" stroke-width="1.22" stroke-linejoin="miter"/>
<path d="M389.6,223.6L393.5,223.6L393.5,235.3L403.8,235.3L403.8,246.6L418.7,246.6L418.7,258.2L430.1,258.2L430.1,269.8L433.2,269.8L433.2,281.6L465.5,281.6L465.5,293.4" fill="none" stroke="#E0962A" stroke-width="1.22" stroke-linejoin="miter"/>
<line x1="383.40" y1="258.50" x2="424.50" y2="258.50" stroke="#333" stroke-width="1.35" stroke-dasharray="3.2,1.9"/>
<line x1="410.50" y1="258.40" x2="410.50" y2="296.80" stroke="#333" stroke-width="1.35" stroke-dasharray="3.2,1.9"/>
<line x1="424.50" y1="258.40" x2="424.50" y2="296.80" stroke="#333" stroke-width="1.35" stroke-dasharray="3.2,1.9"/>
<line x1="466.10" y1="227.70" x2="473.50" y2="227.70" stroke="#5AA1DE" stroke-width="1.4"/>
<text transform="translate(476.70,229.96) scale(1.04,1)" font-size="6.3" text-anchor="start" fill="#222" stroke="#222" stroke-width="0.2" font-weight="normal" >No</text>
<line x1="466.10" y1="236.80" x2="473.50" y2="236.80" stroke="#E0962A" stroke-width="1.4"/>
<text transform="translate(476.70,239.06) scale(1.04,1)" font-size="6.3" text-anchor="start" fill="#222" stroke="#222" stroke-width="0.2" font-weight="normal" >Yes</text>
<text transform="translate(465.80,248.26) scale(1.04,1)" font-size="6.3" text-anchor="start" fill="#222" stroke="#222" stroke-width="0.2" font-weight="normal" >p= 0.8683</text>
<line x1="383.40" y1="315.00" x2="383.40" y2="333.50" stroke="#000" stroke-width="1.2"/>
<line x1="382.80" y1="332.90" x2="511.20" y2="332.90" stroke="#000" stroke-width="1.2"/>
<line x1="389.30" y1="332.90" x2="389.30" y2="336.00" stroke="#000" stroke-width="1.0"/>
<text transform="translate(389.30,344.66) scale(1.03,1)" font-size="6.3" text-anchor="middle" fill="#333333" stroke="#333333" stroke-width="0.15" font-weight="normal" >0</text>
<line x1="418.38" y1="332.90" x2="418.38" y2="336.00" stroke="#000" stroke-width="1.0"/>
<text transform="translate(418.38,344.66) scale(1.03,1)" font-size="6.3" text-anchor="middle" fill="#333333" stroke="#333333" stroke-width="0.15" font-weight="normal" >250</text>
<line x1="447.45" y1="332.90" x2="447.45" y2="336.00" stroke="#000" stroke-width="1.0"/>
<text transform="translate(447.45,344.66) scale(1.03,1)" font-size="6.3" text-anchor="middle" fill="#333333" stroke="#333333" stroke-width="0.15" font-weight="normal" >500</text>
<line x1="476.53" y1="332.90" x2="476.53" y2="336.00" stroke="#000" stroke-width="1.0"/>
<text transform="translate(476.53,344.66) scale(1.03,1)" font-size="6.3" text-anchor="middle" fill="#333333" stroke="#333333" stroke-width="0.15" font-weight="normal" >750</text>
<line x1="505.60" y1="332.90" x2="505.60" y2="336.00" stroke="#000" stroke-width="1.0"/>
<text transform="translate(505.60,344.66) scale(1.03,1)" font-size="6.3" text-anchor="middle" fill="#333333" stroke="#333333" stroke-width="0.15" font-weight="normal" >1000</text>
<line x1="371.10" y1="319.30" x2="377.40" y2="319.30" stroke="#5AA1DE" stroke-width="1.5"/>
<text x="389.30" y="321.73" font-size="6.5" text-anchor="middle" fill="#5AA1DE" stroke="#5AA1DE" stroke-width="0.05" font-weight="normal" fill-opacity="0.85" stroke-opacity="0.85">32</text>
<text x="418.38" y="321.73" font-size="6.5" text-anchor="middle" fill="#5AA1DE" stroke="#5AA1DE" stroke-width="0.05" font-weight="normal" fill-opacity="0.85" stroke-opacity="0.85">13</text>
<text x="447.45" y="321.73" font-size="6.5" text-anchor="middle" fill="#5AA1DE" stroke="#5AA1DE" stroke-width="0.05" font-weight="normal" fill-opacity="0.85" stroke-opacity="0.85">8</text>
<text x="476.53" y="321.73" font-size="6.5" text-anchor="middle" fill="#5AA1DE" stroke="#5AA1DE" stroke-width="0.05" font-weight="normal" fill-opacity="0.85" stroke-opacity="0.85">1</text>
<text x="505.60" y="321.73" font-size="6.5" text-anchor="middle" fill="#5AA1DE" stroke="#5AA1DE" stroke-width="0.05" font-weight="normal" fill-opacity="0.85" stroke-opacity="0.85">0</text>
<line x1="371.10" y1="327.60" x2="377.40" y2="327.60" stroke="#E0962A" stroke-width="1.5"/>
<text x="389.30" y="329.83" font-size="6.5" text-anchor="middle" fill="#E0962A" stroke="#E0962A" stroke-width="0.05" font-weight="normal" >6</text>
<text x="418.38" y="329.83" font-size="6.5" text-anchor="middle" fill="#E0962A" stroke="#E0962A" stroke-width="0.05" font-weight="normal" >4</text>
<text x="447.45" y="329.83" font-size="6.5" text-anchor="middle" fill="#E0962A" stroke="#E0962A" stroke-width="0.05" font-weight="normal" >1</text>
<text x="476.53" y="329.83" font-size="6.5" text-anchor="middle" fill="#E0962A" stroke="#E0962A" stroke-width="0.05" font-weight="normal" >0</text>
<text x="505.60" y="329.83" font-size="6.5" text-anchor="middle" fill="#E0962A" stroke="#E0962A" stroke-width="0.05" font-weight="normal" >0</text>
<text x="440.85" y="357.19" font-size="9.3" fill="#111" stroke="#111" stroke-width="0.3" textLength="12.60" lengthAdjust="spacingAndGlyphs">Days</text>
<text x="7.35" y="383.4" font-size="11.2" font-weight="bold" fill="#000" stroke="#000" stroke-width="0.3">G</text>
<text x="46.50" y="390.91" font-size="8.25" fill="#111" stroke="#111" stroke-width="0.1" font-weight="normal" textLength="105.60" lengthAdjust="spacingAndGlyphs">PRDM1 - Mutated or Deleted</text>
<line x1="37.85" y1="400.50" x2="37.85" y2="474.00" stroke="#000" stroke-width="1.2"/>
<line x1="37.25" y1="473.40" x2="161.00" y2="473.40" stroke="#000" stroke-width="1.2"/>
<line x1="34.95" y1="402.70" x2="37.85" y2="402.70" stroke="#000" stroke-width="1.0"/>
<text x="32.00" y="404.96" font-size="6.3" text-anchor="end" fill="#333333" stroke="#333333" stroke-width="0.15" font-weight="normal" >1.00</text>
<line x1="34.95" y1="419.62" x2="37.85" y2="419.62" stroke="#000" stroke-width="1.0"/>
<text x="32.00" y="421.88" font-size="6.3" text-anchor="end" fill="#333333" stroke="#333333" stroke-width="0.15" font-weight="normal" >0.75</text>
<line x1="34.95" y1="436.55" x2="37.85" y2="436.55" stroke="#000" stroke-width="1.0"/>
<text x="32.00" y="438.81" font-size="6.3" text-anchor="end" fill="#333333" stroke="#333333" stroke-width="0.15" font-weight="normal" >0.50</text>
<line x1="34.95" y1="453.47" x2="37.85" y2="453.47" stroke="#000" stroke-width="1.0"/>
<text x="32.00" y="455.73" font-size="6.3" text-anchor="end" fill="#333333" stroke="#333333" stroke-width="0.15" font-weight="normal" >0.25</text>
<line x1="34.95" y1="470.40" x2="37.85" y2="470.40" stroke="#000" stroke-width="1.0"/>
<text x="32.00" y="472.66" font-size="6.3" text-anchor="end" fill="#333333" stroke="#333333" stroke-width="0.15" font-weight="normal" >0.00</text>
<line x1="43.30" y1="473.40" x2="43.30" y2="476.50" stroke="#000" stroke-width="1.0"/>
<text transform="translate(43.30,485.16) scale(1.03,1)" font-size="6.3" text-anchor="middle" fill="#333333" stroke="#333333" stroke-width="0.15" font-weight="normal" >0</text>
<line x1="65.68" y1="473.40" x2="65.68" y2="476.50" stroke="#000" stroke-width="1.0"/>
<text transform="translate(65.68,485.16) scale(1.03,1)" font-size="6.3" text-anchor="middle" fill="#333333" stroke="#333333" stroke-width="0.15" font-weight="normal" >500</text>
<line x1="88.06" y1="473.40" x2="88.06" y2="476.50" stroke="#000" stroke-width="1.0"/>
<text transform="translate(88.06,485.16) scale(1.03,1)" font-size="6.3" text-anchor="middle" fill="#333333" stroke="#333333" stroke-width="0.15" font-weight="normal" >1000</text>
<line x1="110.44" y1="473.40" x2="110.44" y2="476.50" stroke="#000" stroke-width="1.0"/>
<text transform="translate(110.44,485.16) scale(1.03,1)" font-size="6.3" text-anchor="middle" fill="#333333" stroke="#333333" stroke-width="0.15" font-weight="normal" >1500</text>
<line x1="132.82" y1="473.40" x2="132.82" y2="476.50" stroke="#000" stroke-width="1.0"/>
<text transform="translate(132.82,485.16) scale(1.03,1)" font-size="6.3" text-anchor="middle" fill="#333333" stroke="#333333" stroke-width="0.15" font-weight="normal" >2000</text>
<line x1="155.20" y1="473.40" x2="155.20" y2="476.50" stroke="#000" stroke-width="1.0"/>
<text transform="translate(155.20,485.16) scale(1.03,1)" font-size="6.3" text-anchor="middle" fill="#333333" stroke="#333333" stroke-width="0.15" font-weight="normal" >2500</text>
<g transform="translate(13.90,436.60) rotate(-90)"><text x="0" y="0" font-size="8.6" text-anchor="middle" fill="#111" stroke="#111" stroke-width="0.3" textLength="51.00" lengthAdjust="spacingAndGlyphs">Proportion surviving</text></g>
<path d="M44.3,402.8L44.3,404.7L44.8,409.1L46.3,409.5L47.2,410.5L48.7,411.9L50.1,413.4L51.5,415.3L53.9,415.8L55.4,418.7L55.9,421.6L57.8,421.8L58.8,423.5L62.6,424.0L63.1,429.7L64.5,431.7L67.4,432.1L67.9,434.3L74.8,434.4L76.0,436.7L77.7,439.8L78.8,442.7L80.0,446.2L81.7,448.5L83.5,450.8L86.9,451.3L88.1,453.1L90.4,454.2L90.6,457.7L92.7,460.6L101.9,460.9L102.5,464.0L145.9,464.0L145.9,470.4" fill="none" stroke="#5AA1DE" stroke-width="1.22" stroke-linejoin="miter"/>
<path d="M43.7,402.6L43.7,414.3L46.5,414.3L46.5,425.7L54.9,425.7L55.2,436.5L55.5,447.3L58.7,447.6L59.0,458.8L62.6,458.8L62.7,470.2" fill="none" stroke="#E0962A" stroke-width="1.22" stroke-linejoin="miter"/>
<line x1="38.00" y1="436.50" x2="75.70" y2="436.50" stroke="#333" stroke-width="1.35" stroke-dasharray="3.2,1.9"/>
<line x1="55.50" y1="436.60" x2="55.50" y2="473.20" stroke="#333" stroke-width="1.35" stroke-dasharray="3.2,1.9"/>
<line x1="75.50" y1="436.60" x2="75.50" y2="473.20" stroke="#333" stroke-width="1.35" stroke-dasharray="3.2,1.9"/>
<line x1="121.10" y1="401.90" x2="128.50" y2="401.90" stroke="#5AA1DE" stroke-width="1.4"/>
<text transform="translate(131.70,404.16) scale(1.04,1)" font-size="6.3" text-anchor="start" fill="#222" stroke="#222" stroke-width="0.2" font-weight="normal" >No</text>
<line x1="121.10" y1="411.40" x2="128.50" y2="411.40" stroke="#E0962A" stroke-width="1.4"/>
<text transform="translate(131.70,413.66) scale(1.04,1)" font-size="6.3" text-anchor="start" fill="#222" stroke="#222" stroke-width="0.2" font-weight="normal" >Yes</text>
<text transform="translate(121.10,422.86) scale(1.04,1)" font-size="6.3" text-anchor="start" fill="#222" stroke="#222" stroke-width="0.2" font-weight="normal" >p = 0.0024</text>
<text transform="translate(121.10,430.06) scale(1.04,1)" font-size="6.3" text-anchor="start" fill="#222" stroke="#222" stroke-width="0.2" font-weight="normal" >p.adj =&#160; 0.0918</text>
<line x1="37.85" y1="492.40" x2="37.85" y2="510.00" stroke="#000" stroke-width="1.2"/>
<line x1="37.25" y1="509.40" x2="161.00" y2="509.40" stroke="#000" stroke-width="1.2"/>
<line x1="43.30" y1="509.40" x2="43.30" y2="512.50" stroke="#000" stroke-width="1.0"/>
<text transform="translate(43.30,521.46) scale(1.03,1)" font-size="6.3" text-anchor="middle" fill="#333333" stroke="#333333" stroke-width="0.15" font-weight="normal" >0</text>
<line x1="65.68" y1="509.40" x2="65.68" y2="512.50" stroke="#000" stroke-width="1.0"/>
<text transform="translate(65.68,521.46) scale(1.03,1)" font-size="6.3" text-anchor="middle" fill="#333333" stroke="#333333" stroke-width="0.15" font-weight="normal" >500</text>
<line x1="88.06" y1="509.40" x2="88.06" y2="512.50" stroke="#000" stroke-width="1.0"/>
<text transform="translate(88.06,521.46) scale(1.03,1)" font-size="6.3" text-anchor="middle" fill="#333333" stroke="#333333" stroke-width="0.15" font-weight="normal" >1000</text>
<line x1="110.44" y1="509.40" x2="110.44" y2="512.50" stroke="#000" stroke-width="1.0"/>
<text transform="translate(110.44,521.46) scale(1.03,1)" font-size="6.3" text-anchor="middle" fill="#333333" stroke="#333333" stroke-width="0.15" font-weight="normal" >1500</text>
<line x1="132.82" y1="509.40" x2="132.82" y2="512.50" stroke="#000" stroke-width="1.0"/>
<text transform="translate(132.82,521.46) scale(1.03,1)" font-size="6.3" text-anchor="middle" fill="#333333" stroke="#333333" stroke-width="0.15" font-weight="normal" >2000</text>
<line x1="155.20" y1="509.40" x2="155.20" y2="512.50" stroke="#000" stroke-width="1.0"/>
<text transform="translate(155.20,521.46) scale(1.03,1)" font-size="6.3" text-anchor="middle" fill="#333333" stroke="#333333" stroke-width="0.15" font-weight="normal" >2500</text>
<line x1="25.70" y1="496.40" x2="32.00" y2="496.40" stroke="#5AA1DE" stroke-width="1.5"/>
<text x="43.30" y="498.73" font-size="6.5" text-anchor="middle" fill="#5AA1DE" stroke="#5AA1DE" stroke-width="0.05" font-weight="normal" fill-opacity="0.85" stroke-opacity="0.85">32</text>
<text x="65.68" y="498.73" font-size="6.5" text-anchor="middle" fill="#5AA1DE" stroke="#5AA1DE" stroke-width="0.05" font-weight="normal" fill-opacity="0.85" stroke-opacity="0.85">18</text>
<text x="88.06" y="498.73" font-size="6.5" text-anchor="middle" fill="#5AA1DE" stroke="#5AA1DE" stroke-width="0.05" font-weight="normal" fill-opacity="0.85" stroke-opacity="0.85">7</text>
<text x="110.44" y="498.73" font-size="6.5" text-anchor="middle" fill="#5AA1DE" stroke="#5AA1DE" stroke-width="0.05" font-weight="normal" fill-opacity="0.85" stroke-opacity="0.85">2</text>
<text x="132.82" y="498.73" font-size="6.5" text-anchor="middle" fill="#5AA1DE" stroke="#5AA1DE" stroke-width="0.05" font-weight="normal" fill-opacity="0.85" stroke-opacity="0.85">1</text>
<text x="155.20" y="498.73" font-size="6.5" text-anchor="middle" fill="#5AA1DE" stroke="#5AA1DE" stroke-width="0.05" font-weight="normal" fill-opacity="0.85" stroke-opacity="0.85">0</text>
<line x1="25.70" y1="504.30" x2="32.00" y2="504.30" stroke="#E0962A" stroke-width="1.5"/>
<text x="43.30" y="506.53" font-size="6.5" text-anchor="middle" fill="#E0962A" stroke="#E0962A" stroke-width="0.05" font-weight="normal" >7</text>
<text x="65.68" y="506.53" font-size="6.5" text-anchor="middle" fill="#E0962A" stroke="#E0962A" stroke-width="0.05" font-weight="normal" >0</text>
<text x="88.06" y="506.53" font-size="6.5" text-anchor="middle" fill="#E0962A" stroke="#E0962A" stroke-width="0.05" font-weight="normal" >0</text>
<text x="110.44" y="506.53" font-size="6.5" text-anchor="middle" fill="#E0962A" stroke="#E0962A" stroke-width="0.05" font-weight="normal" >0</text>
<text x="132.82" y="506.53" font-size="6.5" text-anchor="middle" fill="#E0962A" stroke="#E0962A" stroke-width="0.05" font-weight="normal" >0</text>
<text x="155.20" y="506.53" font-size="6.5" text-anchor="middle" fill="#E0962A" stroke="#E0962A" stroke-width="0.05" font-weight="normal" >0</text>
<text x="93.15" y="533.89" font-size="9.3" fill="#111" stroke="#111" stroke-width="0.3" textLength="12.50" lengthAdjust="spacingAndGlyphs">Days</text>
<text x="179.25" y="383.4" font-size="11.2" font-weight="bold" fill="#000" stroke="#000" stroke-width="0.3">H</text>
<text x="219.70" y="390.91" font-size="8.25" fill="#111" stroke="#111" stroke-width="0.1" font-weight="normal" textLength="105.60" lengthAdjust="spacingAndGlyphs">PRDM1 - Mutated or Deleted</text>
<line x1="209.85" y1="398.70" x2="209.85" y2="474.00" stroke="#000" stroke-width="1.2"/>
<line x1="209.25" y1="473.40" x2="334.70" y2="473.40" stroke="#000" stroke-width="1.2"/>
<line x1="206.95" y1="401.90" x2="209.85" y2="401.90" stroke="#000" stroke-width="1.0"/>
<text x="203.70" y="404.16" font-size="6.3" text-anchor="end" fill="#333333" stroke="#333333" stroke-width="0.15" font-weight="normal" >1.00</text>
<line x1="206.95" y1="418.90" x2="209.85" y2="418.90" stroke="#000" stroke-width="1.0"/>
<text x="203.70" y="421.16" font-size="6.3" text-anchor="end" fill="#333333" stroke="#333333" stroke-width="0.15" font-weight="normal" >0.75</text>
<line x1="206.95" y1="435.90" x2="209.85" y2="435.90" stroke="#000" stroke-width="1.0"/>
<text x="203.70" y="438.16" font-size="6.3" text-anchor="end" fill="#333333" stroke="#333333" stroke-width="0.15" font-weight="normal" >0.50</text>
<line x1="206.95" y1="452.90" x2="209.85" y2="452.90" stroke="#000" stroke-width="1.0"/>
<text x="203.70" y="455.16" font-size="6.3" text-anchor="end" fill="#333333" stroke="#333333" stroke-width="0.15" font-weight="normal" >0.25</text>
<line x1="206.95" y1="469.90" x2="209.85" y2="469.90" stroke="#000" stroke-width="1.0"/>
<text x="203.70" y="472.16" font-size="6.3" text-anchor="end" fill="#333333" stroke="#333333" stroke-width="0.15" font-weight="normal" >0.00</text>
<line x1="215.20" y1="473.40" x2="215.20" y2="476.50" stroke="#000" stroke-width="1.0"/>
<text transform="translate(215.20,485.56) scale(1.03,1)" font-size="6.3" text-anchor="middle" fill="#333333" stroke="#333333" stroke-width="0.15" font-weight="normal" >0</text>
<line x1="243.70" y1="473.40" x2="243.70" y2="476.50" stroke="#000" stroke-width="1.0"/>
<text transform="translate(243.70,485.56) scale(1.03,1)" font-size="6.3" text-anchor="middle" fill="#333333" stroke="#333333" stroke-width="0.15" font-weight="normal" >250</text>
<line x1="272.20" y1="473.40" x2="272.20" y2="476.50" stroke="#000" stroke-width="1.0"/>
<text transform="translate(272.20,485.56) scale(1.03,1)" font-size="6.3" text-anchor="middle" fill="#333333" stroke="#333333" stroke-width="0.15" font-weight="normal" >500</text>
<line x1="300.70" y1="473.40" x2="300.70" y2="476.50" stroke="#000" stroke-width="1.0"/>
<text transform="translate(300.70,485.56) scale(1.03,1)" font-size="6.3" text-anchor="middle" fill="#333333" stroke="#333333" stroke-width="0.15" font-weight="normal" >750</text>
<line x1="329.20" y1="473.40" x2="329.20" y2="476.50" stroke="#000" stroke-width="1.0"/>
<text transform="translate(329.20,485.56) scale(1.03,1)" font-size="6.3" text-anchor="middle" fill="#333333" stroke="#333333" stroke-width="0.15" font-weight="normal" >1000</text>
<g transform="translate(186.20,436.00) rotate(-90)"><text x="0" y="0" font-size="8.6" text-anchor="middle" fill="#111" stroke="#111" stroke-width="0.3" textLength="71.40" lengthAdjust="spacingAndGlyphs">Proportion progression−free</text></g>
<path d="M216.3,402.0L216.3,405.6L218.7,405.6L219.7,409.9L220.7,413.3L221.6,414.3L223.5,414.8L225.0,416.7L226.4,418.1L228.8,419.1L229.8,422.0L230.8,424.8L232.2,427.3L232.7,429.7L235.1,429.7L235.8,433.3L243.7,433.5L244.7,435.6L252.4,435.6L253.3,438.5L254.6,441.4L257.3,442.8L258.6,444.1L265.4,444.1L266.0,446.8L271.4,446.8L272.1,450.9L276.1,451.3L276.8,454.9L284.9,455.3L286.9,457.4L288.8,459.1L290.8,461.1L292.2,463.0L293.7,465.4L294.6,467.8L317.7,467.8L318.2,469.2" fill="none" stroke="#5AA1DE" stroke-width="1.22" stroke-linejoin="miter"/>
<path d="M216.0,401.8L216.0,413.3L220.7,413.3L220.7,424.4L225.5,424.4L225.5,435.9L237.4,435.9L237.4,447.2L241.8,447.2L241.8,458.5L244.2,458.5L244.2,469.7" fill="none" stroke="#E0962A" stroke-width="1.22" stroke-linejoin="miter"/>
<line x1="210.00" y1="435.50" x2="248.60" y2="435.50" stroke="#333" stroke-width="1.35" stroke-dasharray="3.2,1.9"/>
<line x1="231.50" y1="435.90" x2="231.50" y2="473.30" stroke="#333" stroke-width="1.35" stroke-dasharray="3.2,1.9"/>
<line x1="248.50" y1="435.90" x2="248.50" y2="473.30" stroke="#333" stroke-width="1.35" stroke-dasharray="3.2,1.9"/>
<line x1="297.20" y1="401.90" x2="304.60" y2="401.90" stroke="#5AA1DE" stroke-width="1.4"/>
<text transform="translate(307.80,404.16) scale(1.04,1)" font-size="6.3" text-anchor="start" fill="#222" stroke="#222" stroke-width="0.2" font-weight="normal" >No</text>
<line x1="297.20" y1="411.40" x2="304.60" y2="411.40" stroke="#E0962A" stroke-width="1.4"/>
<text transform="translate(307.80,413.66) scale(1.04,1)" font-size="6.3" text-anchor="start" fill="#222" stroke="#222" stroke-width="0.2" font-weight="normal" >Yes</text>
<text transform="translate(297.40,423.16) scale(1.04,1)" font-size="6.3" text-anchor="start" fill="#222" stroke="#222" stroke-width="0.2" font-weight="normal" >p = 0.0531</text>
<text transform="translate(297.40,430.56) scale(1.04,1)" font-size="6.3" text-anchor="start" fill="#222" stroke="#222" stroke-width="0.2" font-weight="normal" >p.adj =&#160; 1</text>
<line x1="209.85" y1="492.40" x2="209.85" y2="510.00" stroke="#000" stroke-width="1.2"/>
<line x1="209.25" y1="509.40" x2="334.70" y2="509.40" stroke="#000" stroke-width="1.2"/>
<line x1="215.20" y1="509.40" x2="215.20" y2="512.50" stroke="#000" stroke-width="1.0"/>
<text transform="translate(215.20,521.16) scale(1.03,1)" font-size="6.3" text-anchor="middle" fill="#333333" stroke="#333333" stroke-width="0.15" font-weight="normal" >0</text>
<line x1="243.70" y1="509.40" x2="243.70" y2="512.50" stroke="#000" stroke-width="1.0"/>
<text transform="translate(243.70,521.16) scale(1.03,1)" font-size="6.3" text-anchor="middle" fill="#333333" stroke="#333333" stroke-width="0.15" font-weight="normal" >250</text>
<line x1="272.20" y1="509.40" x2="272.20" y2="512.50" stroke="#000" stroke-width="1.0"/>
<text transform="translate(272.20,521.16) scale(1.03,1)" font-size="6.3" text-anchor="middle" fill="#333333" stroke="#333333" stroke-width="0.15" font-weight="normal" >500</text>
<line x1="300.70" y1="509.40" x2="300.70" y2="512.50" stroke="#000" stroke-width="1.0"/>
<text transform="translate(300.70,521.16) scale(1.03,1)" font-size="6.3" text-anchor="middle" fill="#333333" stroke="#333333" stroke-width="0.15" font-weight="normal" >750</text>
<line x1="329.20" y1="509.40" x2="329.20" y2="512.50" stroke="#000" stroke-width="1.0"/>
<text transform="translate(329.20,521.16) scale(1.03,1)" font-size="6.3" text-anchor="middle" fill="#333333" stroke="#333333" stroke-width="0.15" font-weight="normal" >1000</text>
<line x1="197.70" y1="496.30" x2="204.00" y2="496.30" stroke="#5AA1DE" stroke-width="1.5"/>
<text x="215.20" y="498.73" font-size="6.5" text-anchor="middle" fill="#5AA1DE" stroke="#5AA1DE" stroke-width="0.05" font-weight="normal" fill-opacity="0.85" stroke-opacity="0.85">32</text>
<text x="243.70" y="498.73" font-size="6.5" text-anchor="middle" fill="#5AA1DE" stroke="#5AA1DE" stroke-width="0.05" font-weight="normal" fill-opacity="0.85" stroke-opacity="0.85">16</text>
<text x="272.20" y="498.73" font-size="6.5" text-anchor="middle" fill="#5AA1DE" stroke="#5AA1DE" stroke-width="0.05" font-weight="normal" fill-opacity="0.85" stroke-opacity="0.85">9</text>
<text x="300.70" y="498.73" font-size="6.5" text-anchor="middle" fill="#5AA1DE" stroke="#5AA1DE" stroke-width="0.05" font-weight="normal" fill-opacity="0.85" stroke-opacity="0.85">1</text>
<text x="329.20" y="498.73" font-size="6.5" text-anchor="middle" fill="#5AA1DE" stroke="#5AA1DE" stroke-width="0.05" font-weight="normal" fill-opacity="0.85" stroke-opacity="0.85">0</text>
<line x1="197.70" y1="504.20" x2="204.00" y2="504.20" stroke="#E0962A" stroke-width="1.5"/>
<text x="215.20" y="506.33" font-size="6.5" text-anchor="middle" fill="#E0962A" stroke="#E0962A" stroke-width="0.05" font-weight="normal" >6</text>
<text x="243.70" y="506.33" font-size="6.5" text-anchor="middle" fill="#E0962A" stroke="#E0962A" stroke-width="0.05" font-weight="normal" >1</text>
<text x="272.20" y="506.33" font-size="6.5" text-anchor="middle" fill="#E0962A" stroke="#E0962A" stroke-width="0.05" font-weight="normal" >0</text>
<text x="300.70" y="506.33" font-size="6.5" text-anchor="middle" fill="#E0962A" stroke="#E0962A" stroke-width="0.05" font-weight="normal" >0</text>
<text x="329.20" y="506.33" font-size="6.5" text-anchor="middle" fill="#E0962A" stroke="#E0962A" stroke-width="0.05" font-weight="normal" >0</text>
<text x="266.35" y="533.89" font-size="9.3" fill="#111" stroke="#111" stroke-width="0.3" textLength="12.30" lengthAdjust="spacingAndGlyphs">Days</text>
<rect x="0.55" y="0.45" width="518.9" height="540.9" fill="none" stroke="#000" stroke-width="1.1"/>
</svg>
</body></html>
